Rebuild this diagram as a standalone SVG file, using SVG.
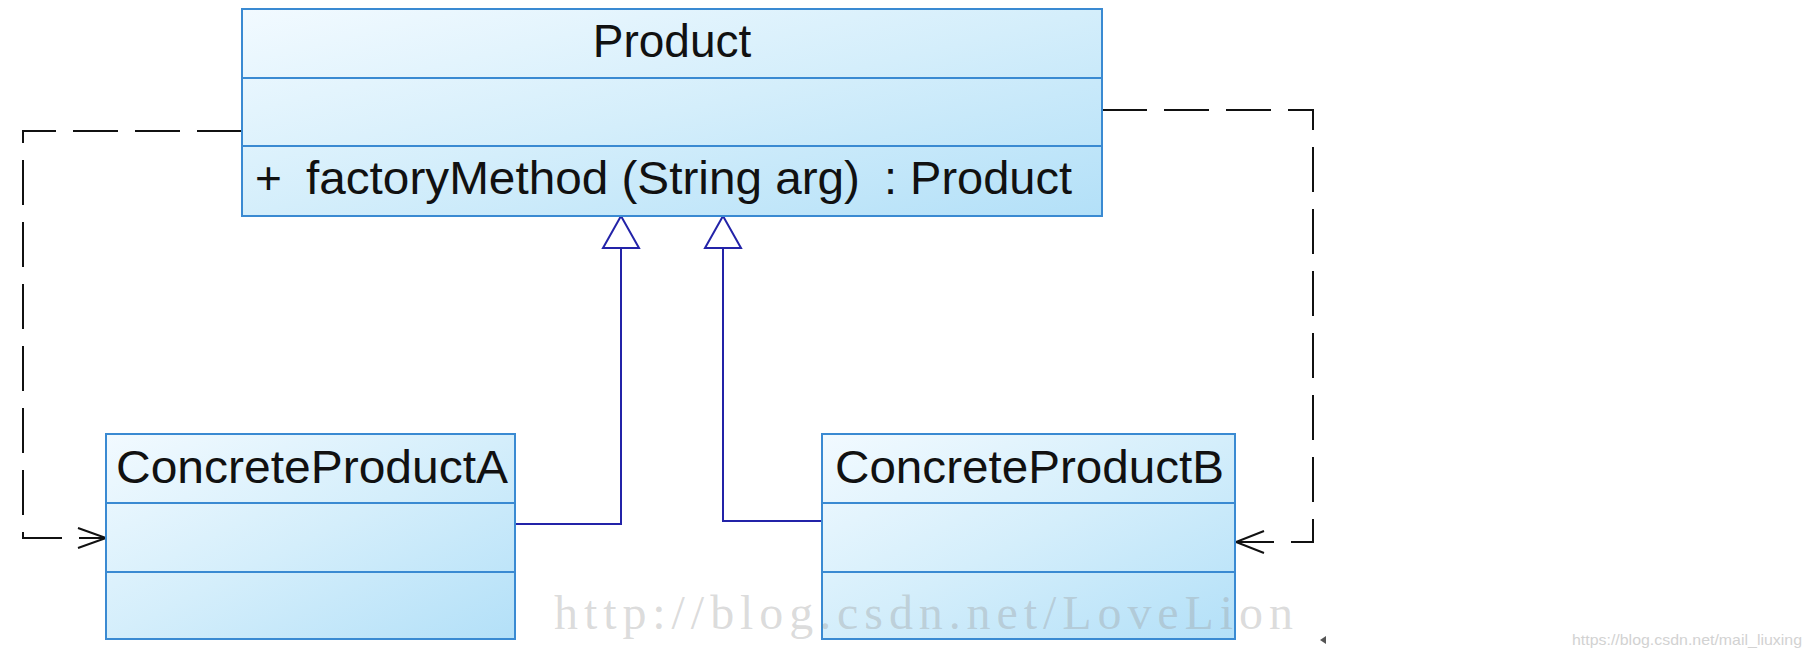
<svg xmlns="http://www.w3.org/2000/svg" width="1810" height="658" viewBox="0 0 1810 658">
  <defs>
    <linearGradient id="boxFill" x1="0" y1="0" x2="1" y2="1">
      <stop offset="0" stop-color="#f2faff"/>
      <stop offset="0.5" stop-color="#d4eefb"/>
      <stop offset="1" stop-color="#b3e0f8"/>
    </linearGradient>
    <style>
      .box { fill: url(#boxFill); stroke: #3a8ad2; stroke-width: 2; }
      .div { stroke: #3a8ad2; stroke-width: 2; }
      .lbl { font-family: "Liberation Sans", Arial, sans-serif; font-size: 46px; fill: #111; }
      .dep { fill: none; stroke: #111; stroke-width: 2; stroke-dasharray: 45 17; }
      .head { fill: none; stroke: #111; stroke-width: 2; }
      .gen { fill: none; stroke: #2323a8; stroke-width: 2; }
      .tri { fill: #fff; stroke: #2323a8; stroke-width: 2; stroke-linejoin: miter; }
      .wm { font-family: "Liberation Serif", "DejaVu Serif", serif; font-size: 48px; fill: #9a9a9a; fill-opacity: 0.36; }
      .wm2 { font-family: "Liberation Sans", Arial, sans-serif; font-size: 15px; fill: #d2d2d2; }
    </style>
  </defs>
  <rect width="1810" height="658" fill="#fff"/>

  <g id="connectors">
    <path class="dep" d="M242,131 H23 V538 H105"/>
    <polyline class="head" points="78,528 106,538 78,548"/>
    <path class="dep" d="M1102,110 H1313 V542 H1237"/>
    <polyline class="head" points="1264,531 1236,542 1264,553"/>
    <path class="gen" d="M515,524 H621 V248"/>
    <polygon class="tri" points="621,216 603,248 639,248"/>
    <path class="gen" d="M822,521 H723 V248"/>
    <polygon class="tri" points="723,216 705,248 741,248"/>
  </g>

  <g id="Product">
    <rect class="box" x="242" y="9" width="860" height="207"/>
    <line class="div" x1="242" y1="78" x2="1102" y2="78"/>
    <line class="div" x1="242" y1="146" x2="1102" y2="146"/>
    <text class="lbl" x="672" y="57" text-anchor="middle">Product</text>
    <text class="lbl" x="255" y="194">+</text>
    <text class="lbl" x="306" y="194" textLength="554" lengthAdjust="spacingAndGlyphs">factoryMethod (String arg)</text>
    <text class="lbl" x="884" y="194" textLength="188" lengthAdjust="spacingAndGlyphs">: Product</text>
  </g>

  <g id="ConcreteProductA">
    <rect class="box" x="106" y="434" width="409" height="205"/>
    <line class="div" x1="106" y1="503" x2="515" y2="503"/>
    <line class="div" x1="106" y1="572" x2="515" y2="572"/>
    <text class="lbl" x="116" y="483" textLength="392" lengthAdjust="spacingAndGlyphs">ConcreteProductA</text>
  </g>

  <g id="ConcreteProductB">
    <rect class="box" x="822" y="434" width="413" height="205"/>
    <line class="div" x1="822" y1="503" x2="1235" y2="503"/>
    <line class="div" x1="822" y1="572" x2="1235" y2="572"/>
    <text class="lbl" x="835" y="483" textLength="389" lengthAdjust="spacingAndGlyphs">ConcreteProductB</text>
  </g>

  <g id="watermarks">
    <text class="wm" x="554" y="629" textLength="739" lengthAdjust="spacing">http://blog.csdn.net/LoveLion</text>
    <polygon points="1320,640 1326,636 1326,644" fill="#555"/>
    <text class="wm2" x="1572" y="645" textLength="230" lengthAdjust="spacingAndGlyphs">https://blog.csdn.net/mail_liuxing</text>
  </g>
</svg>
